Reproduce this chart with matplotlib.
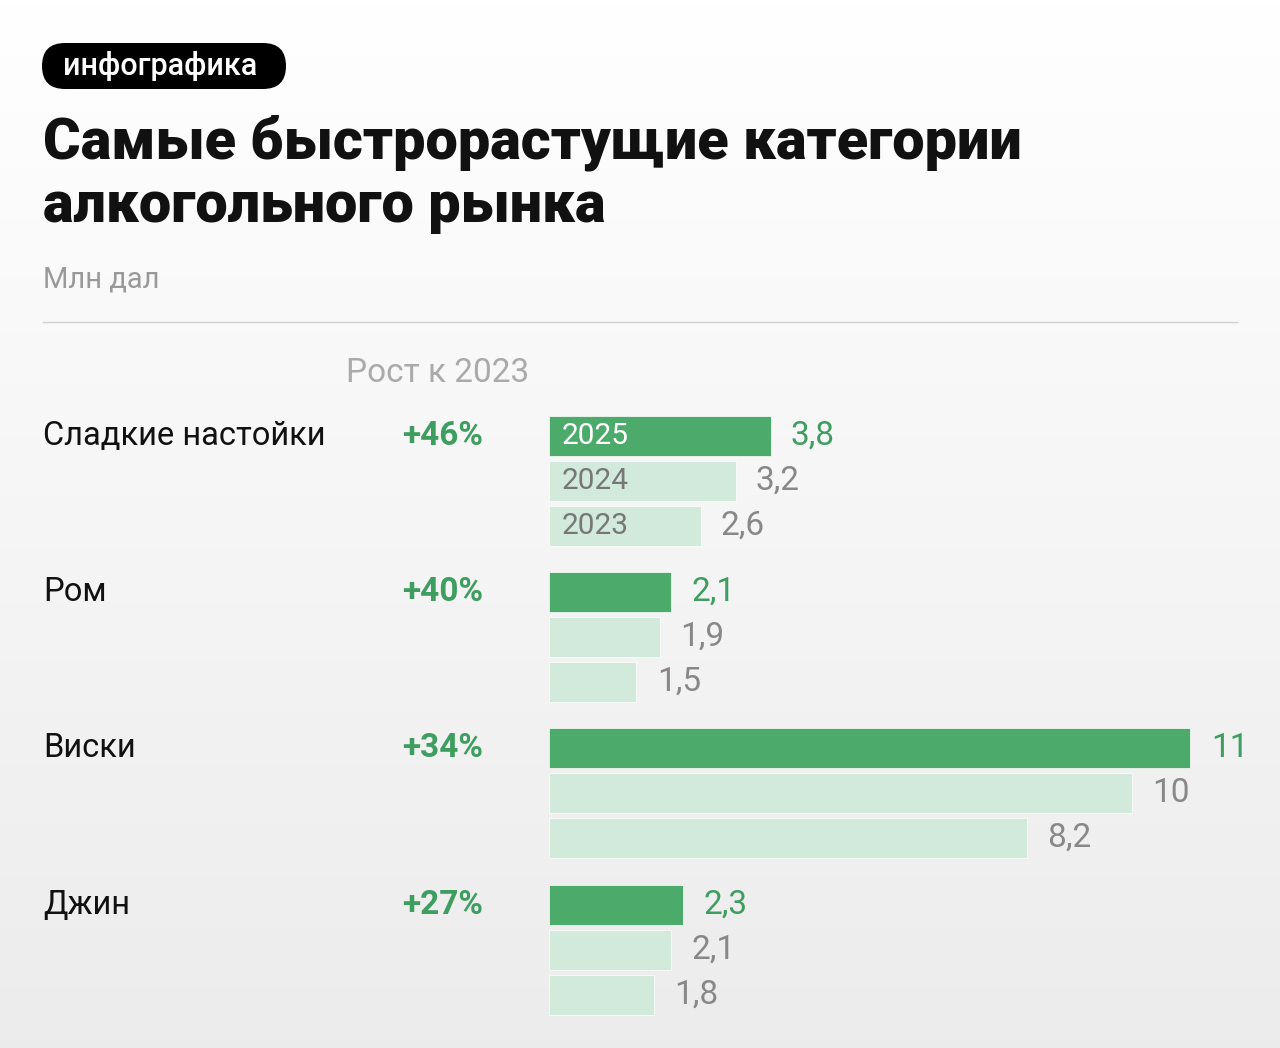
import numpy as np
import matplotlib.pyplot as plt
from matplotlib.patches import FancyBboxPatch

categories = ["Сладкие настойки", "Ром", "Виски", "Джин"]
growth = ["+46%", "+40%", "+34%", "+27%"]
years = ["2025", "2024", "2023"]
v2025 = [3.8, 2.1, 11, 2.3]
v2024 = [3.2, 1.9, 10, 2.1]
v2023 = [2.6, 1.5, 8.2, 1.8]
labels2025 = ["3,8", "2,1", "11", "2,3"]
labels2024 = ["3,2", "1,9", "10", "2,1"]
labels2023 = ["2,6", "1,5", "8,2", "1,8"]

W, H = 1280, 1048
fig = plt.figure(figsize=(W / 100, H / 100), dpi=100)
plt.rcParams['font.family'] = ['Roboto', 'DejaVu Sans']

# фон с градиентом
bg = fig.add_axes([0, 0, 1, 1])
grad = np.linspace(1.0, 0.925, 256).reshape(-1, 1)
bg.imshow(np.dstack([grad, grad, grad]), aspect='auto', extent=[0, W, H, 0])
bg.set_xlim(0, W)
bg.set_ylim(H, 0)
bg.axis('off')

# плашка "инфографика"
bg.add_patch(FancyBboxPatch((42, 43), 244, 46, boxstyle="round,pad=0,rounding_size=23",
                            fc='black', ec='none'))
bg.text(160, 66, "инфографика", color='white', fontsize=22, fontweight='medium',
        ha='center', va='center')

bg.text(43, 143, "Самые быстрорастущие категории", fontsize=41.5, fontweight='black',
        ha='left', va='center', color='#111')
bg.text(43, 207, "алкогольного рынка", fontsize=41.5, fontweight='black',
        ha='left', va='center', color='#111')
bg.text(43, 280, "Млн дал", fontsize=21, color='#999', ha='left', va='center')
bg.plot([43, 1237], [322, 322], color='#d0d0d0', lw=1)
bg.text(346, 373, "Рост к 2023", fontsize=24, color='#aaa', ha='left', va='center')

group_y = [436, 592, 748, 905]
for cat, g, y in zip(categories, growth, group_y):
    bg.text(43, y, cat, fontsize=23.5, color='#111', ha='left', va='center')
    bg.text(483, y, g, fontsize=24, fontweight='bold', color='#3d9e5f', ha='right', va='center')

# столбцы
x0, px_per_unit = 549, 58.3
ax = fig.add_axes([x0 / W, 0, (W - x0) / W, 1])
ax.set_xlim(0, (W - x0) / px_per_unit)
ax.set_ylim(H, 0)
ax.axis('off')

dark, light = '#4caa6a', '#d2eadb'
series = [(v2025, labels2025, dark, '#3d9e5f'),
          (v2024, labels2024, light, '#888'),
          (v2023, labels2023, light, '#888')]
for k, (vals, labs, col, tcol) in enumerate(series):
    ys = [y + 45 * k for y in group_y]
    ax.barh(ys, vals, height=40, color=col, edgecolor='white', lw=0.5)
    for y, v, lab in zip(ys, vals, labs):
        ax.text(v + 0.35, y, lab, fontsize=24, color=tcol, ha='left', va='center')
    ax.text(0.22, ys[0], years[k], fontsize=21.5,
            color='white' if k == 0 else '#777', ha='left', va='center')

fig.savefig("out.png", dpi=100)
